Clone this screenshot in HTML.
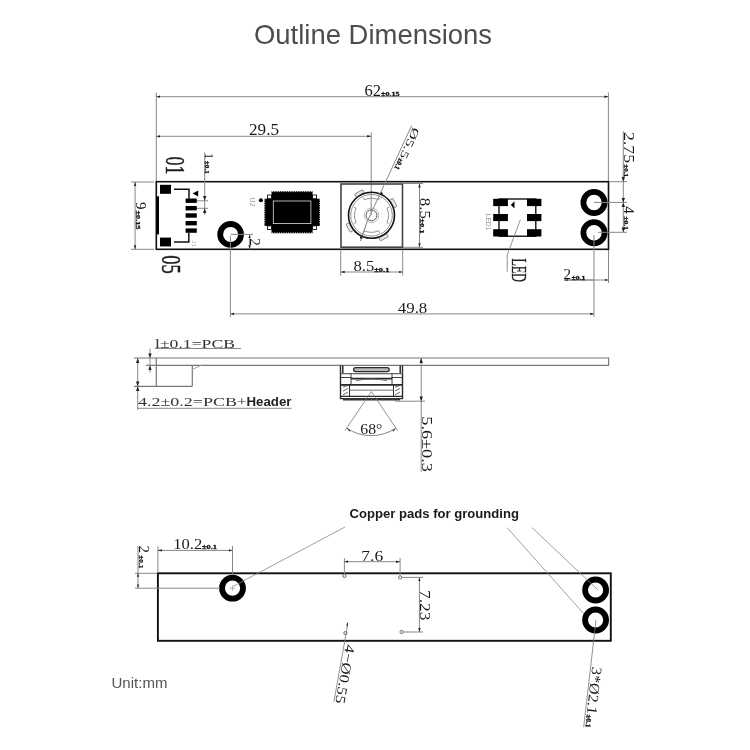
<!DOCTYPE html>
<html><head><meta charset="utf-8">
<style>
html,body{margin:0;padding:0;background:#fff;width:750px;height:750px;overflow:hidden}
svg{display:block;will-change:transform}
.t{font-family:"Liberation Serif",serif;fill:#1a1a1a;stroke:#1a1a1a;stroke-width:0}
.s{font-family:"Liberation Sans",sans-serif}
.d{stroke:#888;stroke-width:1;fill:none}
.k{stroke:#111;fill:none}
.sm{font-family:"Liberation Serif",serif;font-weight:bold;font-size:7px;fill:#1a1a1a;stroke:#1a1a1a;stroke-width:0.35}
</style></head>
<body>
<svg width="750" height="750" viewBox="0 0 750 750">
<defs>
<marker id="ae" markerWidth="4" markerHeight="4" refX="4" refY="2" orient="auto" markerUnits="userSpaceOnUse"><path d="M0,0.8 L4,2 L0,3.2z" fill="#222"/></marker>
<marker id="as" markerWidth="4" markerHeight="4" refX="0" refY="2" orient="auto" markerUnits="userSpaceOnUse"><path d="M4,0.8 L0,2 L4,3.2z" fill="#222"/></marker>
</defs>

<!-- Title -->
<text class="s" x="254" y="44.3" font-size="27.5" fill="#4d4d4d" textLength="238" lengthAdjust="spacingAndGlyphs">Outline Dimensions</text>

<!-- ================= TOP VIEW ================= -->
<g id="top">
<!-- extension lines -->
<line class="d" x1="156.3" y1="92.5" x2="156.3" y2="181"/>
<line class="d" x1="608.4" y1="92.5" x2="608.4" y2="181"/>
<line class="d" x1="156.3" y1="96.7" x2="608.4" y2="96.7" marker-start="url(#as)" marker-end="url(#ae)"/>
<text class="t" x="364.5" y="96" font-size="16.5" textLength="16.5" lengthAdjust="spacingAndGlyphs">62</text>
<text class="sm" x="381" y="96" textLength="18.5" lengthAdjust="spacingAndGlyphs">±0.15</text>

<line class="d" x1="156.3" y1="136.3" x2="371.2" y2="136.3" marker-start="url(#as)" marker-end="url(#ae)"/>
<line class="d" x1="371.2" y1="132.4" x2="371.2" y2="215.3"/>
<text class="t" x="249" y="135.2" font-size="16" textLength="30" lengthAdjust="spacingAndGlyphs">29.5</text>

<!-- PCB outline -->
<rect x="156.3" y="181.7" width="452.2" height="67.6" fill="none" stroke="#111" stroke-width="1.6"/>

<!-- left dim 9 -->
<line class="d" x1="131" y1="182" x2="154" y2="182"/>
<line class="d" x1="131" y1="249.3" x2="154" y2="249.3"/>
<line class="d" x1="135.1" y1="182" x2="135.1" y2="249.3" marker-start="url(#as)" marker-end="url(#ae)"/>
<text class="t" transform="translate(135.7,202) rotate(90)" font-size="15">9</text>
<text class="sm" transform="translate(136,210.5) rotate(90)" textLength="19" lengthAdjust="spacingAndGlyphs">±0.15</text>

<!-- 01 / 05 -->
<text class="t" style="stroke-width:0.3" transform="translate(165.8,156.5) rotate(90) scale(1,1.55)" font-size="17.5" textLength="18" lengthAdjust="spacingAndGlyphs">01</text>
<text class="t" style="stroke-width:0.3" transform="translate(162,255.2) rotate(90) scale(1,1.55)" font-size="17.5" textLength="18.6" lengthAdjust="spacingAndGlyphs">05</text>

<!-- connector -->
<rect x="160" y="184.8" width="11" height="9" fill="#000"/>
<rect x="160" y="237.6" width="11" height="8.8" fill="#000"/>
<rect x="156.3" y="196.3" width="2.7" height="38.1" fill="#000"/>
<path d="M174,189.3 H189 V198.5" class="k" stroke-width="1.5"/>
<path d="M188.8,233 V242 H174" class="k" stroke-width="1.5"/>
<rect x="185.6" y="198.5" width="11.2" height="4.4" fill="#000"/>
<rect x="185.6" y="206" width="11.2" height="4.4" fill="#000"/>
<rect x="185.6" y="213.3" width="11.2" height="4.4" fill="#000"/>
<rect x="185.6" y="221" width="11.2" height="4.4" fill="#000"/>
<rect x="185.6" y="228.4" width="11.2" height="4.4" fill="#000"/>
<path d="M198.2,190.6 L198.2,196.6 L192.6,193.6z" fill="#000"/>
<text class="s" transform="translate(191.5,240.5) rotate(90)" font-size="6" fill="#aaa">J1</text>
<!-- 1±0.1 -->
<line class="d" x1="204.7" y1="152.5" x2="204.7" y2="215"/>
<line class="d" x1="197" y1="200.8" x2="208" y2="200.8"/>
<line class="d" x1="197" y1="208.3" x2="208" y2="208.3"/>
<path d="M203,196 L204.7,200.8 L206.4,196z M203,213 L204.7,208.3 L206.4,213z" fill="#222"/>
<text class="t" transform="translate(205,153) rotate(90)" font-size="12">1</text>
<text class="sm" transform="translate(205.2,160.8) rotate(90)" textLength="13" lengthAdjust="spacingAndGlyphs">±0.1</text>

<!-- left ring -->
<circle cx="230.6" cy="234.4" r="10.4" fill="none" stroke="#000" stroke-width="5.8"/>
<line class="d" x1="230.6" y1="234.4" x2="253" y2="234.4"/>
<line class="d" x1="249.6" y1="234.4" x2="249.6" y2="249.3" marker-start="url(#as)" marker-end="url(#ae)"/>
<text class="t" transform="translate(250,238.3) rotate(90)" font-size="14.5" textLength="7.6" lengthAdjust="spacingAndGlyphs">2</text>
<line class="d" x1="230.4" y1="236" x2="230.4" y2="317.3"/>

<!-- U2 -->
<text class="s" transform="translate(250,197.6) rotate(90)" font-size="7" fill="#999">U2</text>
<circle cx="260.9" cy="200.3" r="2" fill="#000"/>

<!-- IC -->
<path d="M271.5,191.2 H312.6 V195 H316 V198.7 H320 V225.9 H316 V229.5 H312.6 V233.3 H271.5 V229.5 H268 V225.9 H264.4 V198.7 H268 V195 H271.5 Z" fill="#000"/>
<rect x="267.5" y="195" width="4" height="3.7" fill="#fff" stroke="#000" stroke-width="0.8"/>
<rect x="312.6" y="195" width="4" height="3.7" fill="#fff" stroke="#000" stroke-width="0.8"/>
<rect x="267.5" y="225.9" width="4" height="3.7" fill="#fff" stroke="#000" stroke-width="0.8"/>
<rect x="312.6" y="225.9" width="4" height="3.7" fill="#fff" stroke="#000" stroke-width="0.8"/>
<rect x="273.3" y="201" width="37.6" height="22.6" fill="none" stroke="#ddd" stroke-width="0.8"/>
<path d="M272,191.6 H312.2 M272,232.9 H312.2 M264.8,199.5 V225.5 M319.6,199.5 V225.5" fill="none" stroke="#fff" stroke-width="0.9" stroke-dasharray="0.9 1.4"/>

<!-- camera module -->
<rect x="341" y="184" width="61.5" height="63.2" fill="none" stroke="#444" stroke-width="1.6"/>
<g fill="#e6e6e6" stroke="#888" stroke-width="0.9" transform="translate(371.5,215.3)">
<rect x="-4.5" y="-26.8" width="9" height="4" rx="1" transform="rotate(-29)"/>
<rect x="-4.5" y="-26.8" width="9" height="4" rx="1" transform="rotate(61)"/>
<rect x="-4.5" y="-26.8" width="9" height="4" rx="1" transform="rotate(151)"/>
<rect x="-4.5" y="-26.8" width="9" height="4" rx="1" transform="rotate(241)"/>
</g>
<circle cx="371.5" cy="215.3" r="23" fill="none" stroke="#111" stroke-width="1.6"/>
<circle cx="371.5" cy="215.3" r="20.8" fill="none" stroke="#777" stroke-width="0.8"/>
<circle cx="371.5" cy="215.3" r="7.3" fill="none" stroke="#999" stroke-width="0.7"/>
<circle cx="371.5" cy="215.3" r="5.4" fill="none" stroke="#444" stroke-width="0.9"/>
<path d="M386.91,208.12 A17,17 0 0 1 386.91,222.48 M386.91,208.12 L389.17,207.06 M386.91,222.48 L389.17,223.54 M378.68,230.71 A17,17 0 0 1 364.32,230.71 M378.68,230.71 L379.74,232.97 M364.32,230.71 L363.26,232.97 M356.09,222.48 A17,17 0 0 1 356.09,208.12 M356.09,222.48 L353.83,223.54 M356.09,208.12 L353.83,207.06 M364.32,199.89 A17,17 0 0 1 378.68,199.89 M364.32,199.89 L363.26,197.63 M378.68,199.89 L379.74,197.63" fill="none" stroke="#888" stroke-width="0.9"/>
<circle cx="381.3" cy="193.6" r="1.3" fill="#000"/><circle cx="361.3" cy="237.6" r="1.3" fill="#000"/>

<!-- Ø5.5 leader -->
<line class="d" x1="411.7" y1="125.5" x2="367" y2="222" stroke="#555"/>
<line x1="367" y1="222" x2="360.5" y2="241" stroke="#555" stroke-width="0.8"/>
<text class="t" transform="translate(413.3,126.8) rotate(114.8)" font-size="11" textLength="33" lengthAdjust="spacingAndGlyphs">Ø5.5</text>
<text class="sm" transform="translate(399.3,157.5) rotate(114.8)" textLength="12" lengthAdjust="spacingAndGlyphs">±0.1</text>

<!-- 8.5 right dim -->
<line class="d" x1="403" y1="183.5" x2="423" y2="183.5"/>
<line class="d" x1="403" y1="247.3" x2="423" y2="247.3"/>
<line class="d" x1="419.5" y1="183.5" x2="419.5" y2="247.3" marker-start="url(#as)" marker-end="url(#ae)"/>
<text class="t" transform="translate(420,197.8) rotate(90)" font-size="14" textLength="21" lengthAdjust="spacingAndGlyphs">8.5</text>
<text class="sm" transform="translate(420.3,218.6) rotate(90)" textLength="15" lengthAdjust="spacingAndGlyphs">±0.1</text>

<!-- 8.5 bottom dim -->
<line class="d" x1="340.7" y1="249.5" x2="340.7" y2="275.6"/>
<line class="d" x1="402.7" y1="249.5" x2="402.7" y2="275.6"/>
<line class="d" x1="340.7" y1="272" x2="402.7" y2="272" marker-start="url(#as)" marker-end="url(#ae)"/>
<text class="t" x="353.5" y="271.3" font-size="15" textLength="20.8" lengthAdjust="spacingAndGlyphs">8.5</text>
<text class="sm" x="374.3" y="272" textLength="15" lengthAdjust="spacingAndGlyphs">±0.1</text>

<!-- 49.8 -->
<line class="d" x1="230.4" y1="313.9" x2="594.2" y2="313.9" marker-start="url(#as)" marker-end="url(#ae)"/>
<text class="t" x="397.8" y="312.7" font-size="15.5" textLength="29.5" lengthAdjust="spacingAndGlyphs">49.8</text>

<!-- LED -->
<g fill="#000">
<rect x="493.2" y="198.8" width="14.7" height="7.3"/>
<rect x="493.2" y="214" width="14.7" height="7.1"/>
<rect x="493.2" y="229.2" width="14.7" height="7.3"/>
<rect x="527" y="198.8" width="14.4" height="7.3"/>
<rect x="527" y="214" width="14.4" height="7.1"/>
<rect x="527" y="229.2" width="14.4" height="7.3"/>
<path d="M514.5,201.3 V208.6 L510.8,205z"/>
</g>
<rect x="499" y="199" width="36.8" height="37.2" fill="none" stroke="#000" stroke-width="1.3"/>
<text class="s" transform="translate(486,213.8) rotate(90)" font-size="6.5" fill="#999">LED1</text>
<path d="M520.4,219.6 L507.2,254.9 V271.8" fill="none" stroke="#777" stroke-width="0.8"/>
<text class="t" style="stroke-width:0.3" transform="translate(511.8,258.5) rotate(90)" font-size="21" textLength="23.5" lengthAdjust="spacingAndGlyphs">LED</text>

<!-- right rings -->
<circle cx="594" cy="202.5" r="10.6" fill="none" stroke="#000" stroke-width="5.8"/>
<circle cx="594" cy="232.7" r="10.6" fill="none" stroke="#000" stroke-width="5.8"/>
<!-- 2.75 / 4 dims -->
<line class="d" x1="609" y1="181.7" x2="627" y2="181.7"/>
<line class="d" x1="594" y1="202.4" x2="627" y2="202.4"/>
<line class="d" x1="598" y1="232.3" x2="627" y2="232.3"/>
<line class="d" x1="623.3" y1="131.2" x2="623.3" y2="232.3"/>
<path d="M621.6,177 L623.3,181.7 L625,177z M621.6,207 L623.3,202.4 L625,207z M621.6,198 L623.3,202.4 L625,198z M621.6,227.5 L623.3,232.3 L625,227.5z" fill="#222"/>
<text class="t" transform="translate(623.9,132) rotate(90)" font-size="14.5" textLength="31" lengthAdjust="spacingAndGlyphs">2.75</text>
<text class="sm" transform="translate(624.3,164.2) rotate(90)" textLength="13" lengthAdjust="spacingAndGlyphs">±0.1</text>
<text class="t" transform="translate(624,206.3) rotate(90)" font-size="15">4</text>
<text class="sm" transform="translate(624.3,216.2) rotate(90)" textLength="14" lengthAdjust="spacingAndGlyphs">±0.1</text>
<!-- 2±0.1 -->
<line class="d" x1="608.5" y1="250" x2="608.5" y2="283"/>
<line class="d" x1="594" y1="235" x2="594" y2="316.8"/>
<line class="d" x1="564" y1="280" x2="608.5" y2="280" marker-start="url(#as)" marker-end="url(#ae)"/>
<line class="d" x1="564" y1="280" x2="594" y2="280"/>
<text class="t" x="563.5" y="279.3" font-size="15">2</text>
<text class="sm" x="571.5" y="279.5" textLength="14" lengthAdjust="spacingAndGlyphs">±0.1</text>
</g>

<!-- ================= SIDE VIEW ================= -->
<g id="side">
<path d="M134,358 H608.6 V365.4 H146" fill="none" stroke="#777" stroke-width="1.2"/>
<path d="M156.3,358 V386.3 M192.3,365.4 V386.3 M134,386.3 H192.3" fill="none" stroke="#777" stroke-width="1.2"/>
<path d="M192.3,369.5 L201,365.4" fill="none" stroke="#aaa" stroke-width="1"/>
<line class="d" x1="137.7" y1="358" x2="137.7" y2="410" />
<path d="M136,363 L137.7,358 L139.4,363z M136,381.5 L137.7,386.3 L139.4,381.5z M136,391 L137.7,386.3 L139.4,391z" fill="#222"/>
<line class="d" x1="150" y1="348.7" x2="150" y2="372.7"/>
<line class="d" x1="146" y1="365.4" x2="156" y2="365.4"/>
<path d="M148.3,353.5 L150,358 L151.7,353.5z M148.3,370 L150,365.4 L151.7,370z" fill="#222"/>
<text class="t" style="stroke-width:0;fill:#333" x="155" y="347.8" font-size="13.5" textLength="80" lengthAdjust="spacingAndGlyphs">l±0.1=PCB</text>
<line class="d" x1="155" y1="348.5" x2="241" y2="348.5"/>
<text class="t" style="stroke-width:0;fill:#333" x="138" y="406" font-size="13.5" textLength="109" lengthAdjust="spacingAndGlyphs">4.2±0.2=PCB+</text>
<text class="s" x="246.5" y="406" font-size="13.5" font-weight="bold" fill="#222" textLength="45" lengthAdjust="spacingAndGlyphs">Header</text>
<line class="d" x1="138" y1="408.3" x2="291.5" y2="408.3"/>

<!-- camera side -->
<g fill="none" stroke="#2a2a2a" stroke-width="1">
<path d="M340.5,365.4 V398.6 H402.5 V365.4" stroke-width="1.4"/>
<path d="M342.8,365.4 V373.4 M400.2,365.4 V373.4" stroke="#222" stroke-width="1.4"/>
<rect x="353.6" y="367.6" width="35.6" height="4" rx="2" stroke-width="1.3" fill="#bbb"/>
<path d="M340.5,373.6 H402.5" stroke-width="1.4" stroke="#666"/>
<path d="M340.5,377.5 H351 V384.8 M402.5,377.5 H392 V384.8" stroke-width="0.9"/>
<path d="M351,373.4 V378.5 M392,373.4 V378.5" stroke-width="0.9"/>
<path d="M351,378.6 H392" stroke-width="1.6"/>
<path d="M356,380.6 Q371.5,377.5 387,380.6" stroke="#666" stroke-width="0.9"/>
<path d="M340.5,384.8 H402.5" stroke-width="1.8"/>
<path d="M349.5,384.8 V396.5 M393.5,384.8 V396.5" stroke-width="1"/>
<path d="M343,387 L348,385.5 M343,391 L348,388.5 M343,395 L348,392 M395,387 L400,385.5 M395,391 L400,388.5 M395,395 L400,392" stroke="#444" stroke-width="0.8"/>
<path d="M349.5,390.2 H393.5" stroke="#555" stroke-width="0.8"/>
<path d="M340.5,396.4 H402.5" stroke-width="1.3"/>
<path d="M343,399.4 H400" stroke-width="2.2" stroke="#333"/>
<path d="M350,398.6 V400.3 M360,398.6 V400.3 M371.5,398.6 V400.3 M383,398.6 V400.3 M393,398.6 V400.3" stroke="#555" stroke-width="0.8"/>
</g>
<!-- 68 deg -->
<path d="M371.3,391.6 L345,430.6 M371.3,391.6 L397.6,430.6" fill="none" stroke="#777" stroke-width="0.8"/>
<path d="M346.7,428.1 A44,44 0 0 0 395.9,428.1" fill="none" stroke="#777" stroke-width="0.9"/>
<path d="M346.7,428.1 l3.6,2.4 l-0.9,1.3z M395.9,428.1 l-3.6,2.4 l0.9,1.3z" fill="#333"/>
<text class="t" x="360.3" y="434" font-size="14.5" textLength="22" lengthAdjust="spacingAndGlyphs">68°</text>
<!-- 5.6 -->
<line class="d" x1="421.2" y1="358" x2="421.2" y2="471.6"/>
<line class="d" x1="395" y1="401.2" x2="425" y2="401.2"/>
<path d="M419.5,363 L421.2,358 L422.9,363z M419.5,396.5 L421.2,401.2 L422.9,396.5z" fill="#222"/>
<text class="t" transform="translate(422,416.3) rotate(90)" font-size="15" textLength="55.5" lengthAdjust="spacingAndGlyphs">5.6±0.3</text>
</g>

<!-- ================= BOTTOM VIEW ================= -->
<g id="bottom">
<text class="s" x="349.5" y="518.2" font-size="13.4" font-weight="bold" fill="#1a1a1a" textLength="169.5" lengthAdjust="spacingAndGlyphs">Copper pads for grounding</text>
<rect x="157.9" y="573.3" width="452.9" height="67.5" fill="none" stroke="#111" stroke-width="1.9"/>
<circle cx="232.5" cy="588.2" r="10.5" fill="none" stroke="#000" stroke-width="5.8"/>
<path d="M229.5,588.2 H235.5 M232.5,585.5 V591" stroke="#999" stroke-width="0.7"/>
<circle cx="595.6" cy="590" r="10.5" fill="none" stroke="#000" stroke-width="5.8"/>
<circle cx="595.6" cy="620" r="10.5" fill="none" stroke="#000" stroke-width="5.8"/>
<!-- 10.2 -->
<line class="d" x1="157.9" y1="546.5" x2="157.9" y2="572"/>
<line class="d" x1="232.5" y1="546" x2="232.5" y2="575"/>
<line class="d" x1="157.9" y1="550.4" x2="232.5" y2="550.4" marker-start="url(#as)" marker-end="url(#ae)"/>
<text class="t" x="173.3" y="549.4" font-size="15" textLength="29" lengthAdjust="spacingAndGlyphs">10.2</text>
<text class="sm" x="202" y="549.3" textLength="15" lengthAdjust="spacingAndGlyphs">±0.1</text>
<!-- 2 -->
<line class="d" x1="135" y1="573.3" x2="157" y2="573.3"/>
<line class="d" x1="135" y1="588.2" x2="220" y2="588.2"/>
<line class="d" x1="138" y1="546" x2="138" y2="588"/>
<path d="M136.9,576.8 L138,573.3 L139.1,576.8z M136.9,584.5 L138,588 L139.1,584.5z" fill="#222"/>
<text class="t" transform="translate(138.5,545.5) rotate(90)" font-size="15">2</text>
<text class="sm" transform="translate(138.6,555.3) rotate(90)" textLength="13" lengthAdjust="spacingAndGlyphs">±0.1</text>
<!-- leaders -->
<line x1="233.3" y1="586.3" x2="345" y2="527" stroke="#888" stroke-width="0.8"/>
<line x1="507" y1="527.6" x2="584" y2="614" stroke="#888" stroke-width="0.8"/>
<line x1="532" y1="527.6" x2="598" y2="590" stroke="#888" stroke-width="0.8"/>
<line x1="596" y1="620" x2="583.7" y2="727.2" stroke="#777" stroke-width="0.8"/>
<text class="t" transform="translate(592.2,666.6) rotate(96.6)" font-size="14.5" textLength="47.5" lengthAdjust="spacingAndGlyphs">3*Ø2.1</text>
<text class="sm" transform="translate(587,714.3) rotate(96.6)" textLength="13" lengthAdjust="spacingAndGlyphs">±0.1</text>
<!-- small holes -->
<g fill="#fff" stroke="#444" stroke-width="0.8">
<circle cx="344.4" cy="575.9" r="1.6"/>
<circle cx="400.1" cy="577.4" r="1.6"/>
<circle cx="401.6" cy="632" r="1.6"/>
<circle cx="345.4" cy="633.1" r="1.6"/>
</g>
<!-- 7.6 -->
<line class="d" x1="344.4" y1="558" x2="344.4" y2="574"/>
<line class="d" x1="400.1" y1="558" x2="400.1" y2="575.6"/>
<line class="d" x1="344.4" y1="561.7" x2="400.1" y2="561.7" marker-start="url(#as)" marker-end="url(#ae)"/>
<text class="t" x="361.3" y="560.5" font-size="15" textLength="21.8" lengthAdjust="spacingAndGlyphs">7.6</text>
<!-- 7.23 -->
<line class="d" x1="402" y1="577.4" x2="423" y2="577.4"/>
<line class="d" x1="403" y1="632" x2="423" y2="632"/>
<line class="d" x1="419.4" y1="577.4" x2="419.4" y2="632" marker-start="url(#as)" marker-end="url(#ae)"/>
<text class="t" transform="translate(419.8,590) rotate(90)" font-size="15" textLength="30.5" lengthAdjust="spacingAndGlyphs">7.23</text>
<!-- 4-Ø0.55 -->
<line x1="347.8" y1="623.9" x2="333.9" y2="701.9" stroke="#777" stroke-width="0.8"/>
<path d="M346.5,624 L348.3,622 L347,628z" fill="#222"/>
<text class="t" transform="translate(345.7,644.1) rotate(100.1)" font-size="14" textLength="59.5" lengthAdjust="spacingAndGlyphs">4−Ø0.55</text>

<text class="s" x="111.5" y="688.2" font-size="14" fill="#555" textLength="56" lengthAdjust="spacingAndGlyphs">Unit:mm</text>
</g>
</svg>
</body></html>
